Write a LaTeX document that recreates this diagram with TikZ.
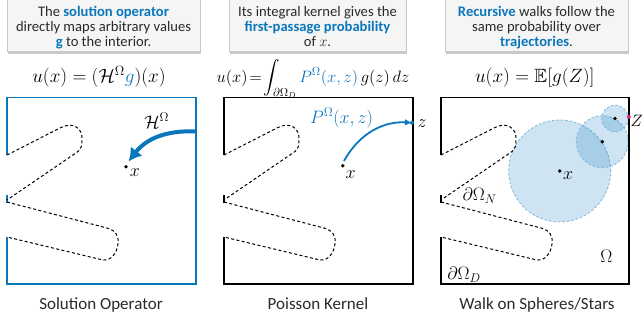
\RequirePackage{fix-cm}
\documentclass[tikz,border=0pt]{standalone}
\usepackage{amssymb}
\usepackage{fontspec}
\newfontfamily\bio{Carlito}
\usetikzlibrary{arrows.meta,shadows}
\definecolor{opblue}{HTML}{0A77BD}
\definecolor{zmag}{HTML}{E0287D}
\definecolor{txtgray}{HTML}{2A2A2A}
\newcommand\hl[1]{\textbf{\color{opblue}#1}}
\newcommand\drawpanel[2]{%
  \begin{scope}[shift={(#1,0)}]
    \fill[white] (0,97.5) rectangle (189,284);
    \draw[panelline,#2] (0,155) -- (0,97.5) -- (189,97.5) -- (189,284) -- (0,284) -- (0,237);
    \draw[panelline,#2] (0,195) -- (0,203);
    \draw[dashline] (0,155) -- (54,127.5) .. controls (66,121.5) and (76,128) .. (75,140)
       .. controls (75,146) and (74,149) .. (71,151.5) -- (0,200);
    \draw[dashline] (0,202) -- (100,228) .. controls (109,230.5) and (112,236) .. (111,244)
       .. controls (110,253) and (104,261) .. (96,260) -- (0,237);
  \end{scope}}
\begin{document}
\begin{tikzpicture}[x=1pt,y=-1pt,
  panelline/.style={line width=1.7pt},
  dashline/.style={line width=1pt, dash pattern=on 3pt off 2.4pt, black},
  dot/.style={circle, fill=black, inner sep=0pt, minimum size=3.8pt},
  mlbl/.style={inner sep=0pt, font=\fontsize{18}{20}\selectfont},
  eqn/.style={inner sep=0pt, font=\fontsize{19.2}{21}\selectfont, anchor=base},
  capt/.style={inner sep=0pt, font=\bio\fontsize{17}{18}\selectfont, anchor=base, text=txtgray},
  boxtext/.style={inner sep=0pt, align=center, font=\bio\fontsize{14.6}{14.7}\selectfont, text=txtgray, anchor=north},
  infobox/.style={draw=black!22, fill=black!4, line width=0.6pt, inner sep=0pt,
     drop shadow={shadow xshift=1.2pt, shadow yshift=-2.2pt, opacity=0.35, fill=black!60}},
  wos/.style={fill=opblue, fill opacity=0.2, draw=opblue!50, draw opacity=1, line width=0.9pt, dash pattern=on 2.5pt off 2pt},
  bigarrow/.style={opblue, line width=4pt, -{Latex[length=13pt,width=15pt]}},
  smallarrow/.style={opblue, line width=1.8pt, -{Latex[length=7pt,width=6.5pt]}}
]
\useasboundingbox (0,0) rectangle (642,322);

% info boxes
\node[infobox, minimum width=193pt, minimum height=54pt] (b1) at (103.5,24.5) {};
\node[infobox, minimum width=177pt, minimum height=54pt] (b2) at (317.5,24.5) {};
\node[infobox, minimum width=183pt, minimum height=54pt] (b3) at (536.5,24.5) {};
\node[boxtext] (t1) at (103.5,6.3) {The \hl{solution operator}\\directly maps arbitrary values\\\hl{g} to the interior.};
\node[boxtext] (t2) at (317.5,6.3) {Its integral kernel gives the\\\hl{first-passage probability}\\of $x$.};
\node[boxtext] (t3) at (536.5,6.3) {\hl{Recursive} walks follow the\\same probability over\\\hl{trajectories}.};

% equations
\node[eqn] (e1) at (99,82) {$u(x) = (\mathcal{H}^{\Omega}\textcolor{opblue}{g})(x)$};
\node[eqn, font=\fontsize{16.5}{19}\selectfont] (e2) at (313,82) {$\displaystyle u(x)\!=\!\int_{\partial\Omega_D} \textcolor{opblue}{P^{\Omega}(x,z)}\,g(z)\,dz$};
\node[eqn] (e3) at (534.7,82) {$u(x) = \mathbb{E}[g(Z)]$};

% panels
\drawpanel{7}{opblue}
\drawpanel{224}{black}

% panel 3 circles first
\begin{scope}
  \path[wos] (559.7,171) circle[radius=51pt];
  \path[wos] (602.3,141.7) circle[radius=26pt];
  \path[wos] (615,118.5) circle[radius=13.3pt];
\end{scope}
\begin{scope}[shift={(441,0)}]
    \draw[panelline,black] (0,155) -- (0,97.5) -- (188,97.5) -- (188,284) -- (0,284) -- (0,237);
    \draw[panelline,black] (0,195) -- (0,203);
    \draw[dashline] (0,155) -- (54,127.5) .. controls (66,121.5) and (76,128) .. (75,140)
       .. controls (75,146) and (74,149) .. (71,151.5) -- (0,200);
    \draw[dashline] (0,202) -- (100,228) .. controls (109,230.5) and (112,236) .. (111,244)
       .. controls (110,253) and (104,261) .. (96,260) -- (0,237);
\end{scope}

% panel 1 content
\node[dot] (x1) at (126,166.7) {};
\node[mlbl] (lx1) at (135,172.5) {$x$};
\coordinate (h1s) at (196,131.5);
\coordinate (h1e) at (128.5,161.5);
\draw[bigarrow] (h1s) .. controls (166,130) and (146,139) .. (h1e);
\node[mlbl] (lh1) at (156.7,120.5) {$\mathcal{H}^{\Omega}$};

% panel 2 content
\node[dot] (x2) at (342.7,165.7) {};
\node[mlbl] (lx2) at (350.7,175) {$x$};
\coordinate (p2s) at (344,161);
\node[dot, fill=opblue, minimum size=4pt] (z2) at (412,122.8) {};
\draw[smallarrow] (p2s) .. controls (360,132) and (385,121) .. (z2.center);
\node[mlbl, text=opblue] (lp2) at (341.5,118) {$P^{\Omega}(x,z)$};
\node[mlbl] (lz2) at (422,124) {$z$};

% panel 3 content
\node[dot] (x3) at (559.7,171) {};
\node[dot] (w1) at (602.3,141.7) {};
\node[dot] (w2) at (615,118.5) {};
\node[dot, fill=zmag, minimum size=4pt] (z3) at (628.8,116.8) {};
\node[mlbl, anchor=west, font=\fontsize{16.5}{18}\selectfont] (lz3) at (630.3,121) {$Z$};
\node[mlbl] (lx3) at (568,176) {$x$};
\node[mlbl] (ln3) at (479.5,196) {$\partial\Omega_N$};
\node[mlbl] (lo3) at (606.3,256.7) {$\Omega$};
\node[mlbl] (ld3) at (464,275) {$\partial\Omega_D$};

% captions
\node[capt] (c1) at (101,309) {Solution Operator};
\node[capt] (c2) at (318,309) {Poisson Kernel};
\node[capt] (c3) at (537,309) {Walk on Spheres/Stars};
\end{tikzpicture}
\end{document}
